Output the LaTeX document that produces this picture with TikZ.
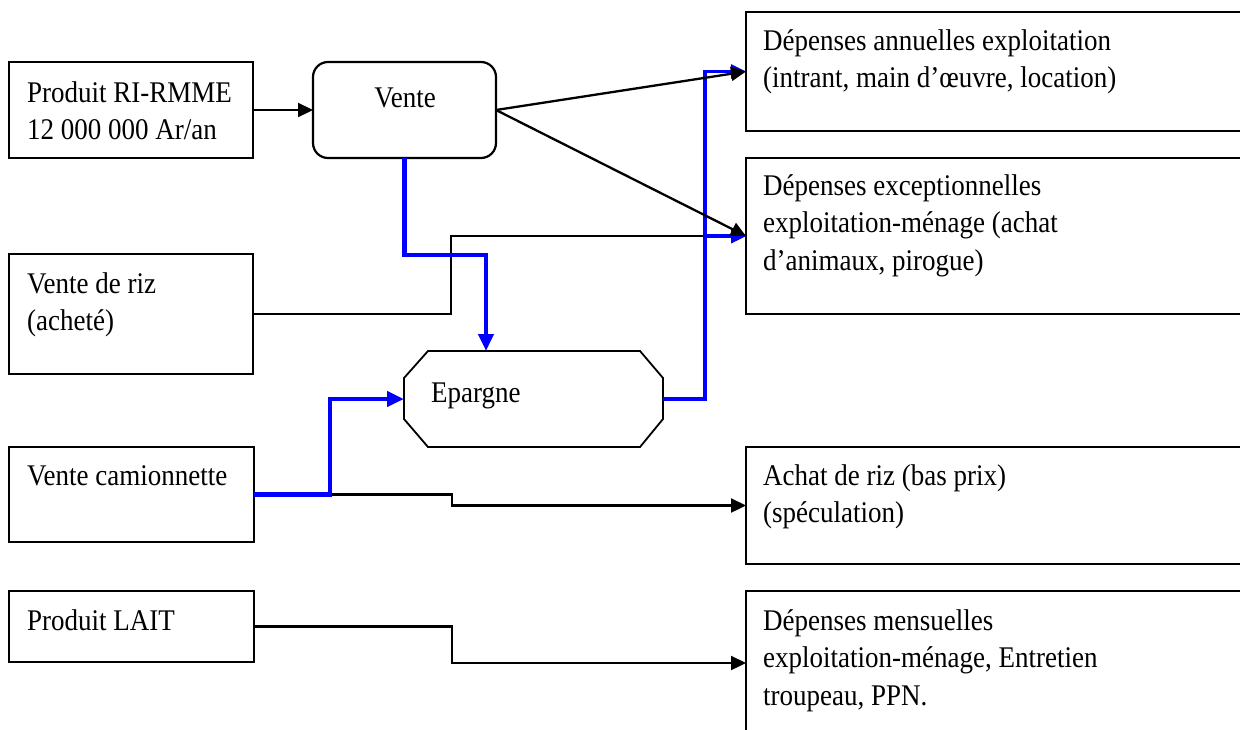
\documentclass[tikz,border=0pt]{standalone}
\usepackage{fontspec}
\setmainfont[FakeStretch=0.9]{Liberation Serif}
\usetikzlibrary{arrows.meta,calc}
\begin{document}
\begin{tikzpicture}[x=1pt,y=-1pt,
  box/.style={draw, line width=2.2pt, rectangle, anchor=north west, outer sep=0pt, inner sep=0pt},
  txt/.style={anchor=base west, inner sep=0pt, font=\fontsize{30}{37.5}\selectfont},
  conn/.style={draw=black, line width=2.3pt, -{Triangle[length=15pt,width=14pt]}},
  flowthick/.style={draw=blue, line width=4.5pt, -{Triangle[length=17pt,width=15pt]}},
  flowthin/.style={draw=blue, line width=3.2pt, -{Triangle[length=15pt,width=14pt]}},
]
\useasboundingbox (0,0) rectangle (1240,729);
\clip (0,0) rectangle (1240,729);
\fill[white] (0,0) rectangle (1240,729);

% left boxes
\node[box, minimum width=244pt, minimum height=96pt] (A) at (9,62) {};
\node[box, minimum width=244pt, minimum height=120pt] (B) at (9,254) {};
\node[box, minimum width=245pt, minimum height=95pt] (C) at (9,447) {};
\node[box, minimum width=245pt, minimum height=71pt] (L) at (9,591) {};
% Vente
\node[box, rounded corners=15pt, minimum width=183pt, minimum height=96pt] (V) at (313,62) {};
% Epargne (octagon)
\node[anchor=north west, inner sep=0pt, outer sep=0pt, minimum width=259pt, minimum height=96pt] (E) at (404,351) {};
\draw[line width=1.8pt] ($(E.north west)+(24,0)$) -- ($(E.north east)+(-23,0)$) -- ($(E.north east)+(0,27)$)
  -- ($(E.south east)+(0,-28)$) -- ($(E.south east)+(-23,0)$) -- ($(E.south west)+(24,0)$)
  -- ($(E.south west)+(0,-28)$) -- ($(E.north west)+(0,27)$) -- cycle;
% right boxes
\node[box, minimum width=499pt, minimum height=119pt] (D1) at (746,12) {};
\node[box, minimum width=499pt, minimum height=156pt] (D2) at (746,158) {};
\node[box, minimum width=499pt, minimum height=117pt] (D3) at (746,447) {};
\node[box, minimum width=499pt, minimum height=144pt] (D4) at (746,591) {};

% texts
\node[txt] (tA) at (27,102) {\begin{tabular}[t]{@{}l@{}}Produit RI-RMME\\12 000 000 Ar/an\end{tabular}};
\node[txt, anchor=base] (tV) at (405,107) {Vente};
\node[txt] (tB) at (27,293) {\begin{tabular}[t]{@{}l@{}}Vente de riz\\(acheté)\end{tabular}};
\node[txt] (tE) at (431,402) {Epargne};
\node[txt] (tC) at (27,485) {Vente camionnette};
\node[txt] (tL) at (27,630) {Produit LAIT};
\node[txt] (tD1) at (763,50) {\begin{tabular}[t]{@{}l@{}}Dépenses annuelles exploitation\\(intrant, main d’œuvre, location)\end{tabular}};
\node[txt] (tD2) at (763,195) {\begin{tabular}[t]{@{}l@{}}Dépenses exceptionnelles\\exploitation-ménage (achat\\d’animaux, pirogue)\end{tabular}};
\node[txt] (tD3) at (763,485) {\begin{tabular}[t]{@{}l@{}}Achat de riz (bas prix)\\(spéculation)\end{tabular}};
\node[txt] (tD4) at (763,630) {\begin{tabular}[t]{@{}l@{}}Dépenses mensuelles\\exploitation-ménage, Entretien\\troupeau, PPN.\end{tabular}};

% black connectors (below blue)
\draw[conn] (A.east) -- (V.west);
\draw[conn] (B.east) -- ++(198,0) |- (D2.west);
\draw[conn] (C.east) -- ++(198,0) |- (D3.west);
\draw[conn] (L.east) -- ++(198,0) |- (D4.west);

% blue flows
\draw[flowthick] (V.south) -- ++(0,97) -| ($(E.north west)+(82,0)$);
\draw[flowthick] (C.east) -- ++(76,0) |- (E.west);
\draw[flowthin] (E.east) -- ++(42,0) |- (D1.west);
\draw[flowthin] (E.east) -- ++(42,0) |- (D2.west);

% black diagonals on top
\draw[conn] (V.east) -- (D1.west);
\draw[conn] (V.east) -- (D2.west);
\end{tikzpicture}
\end{document}
